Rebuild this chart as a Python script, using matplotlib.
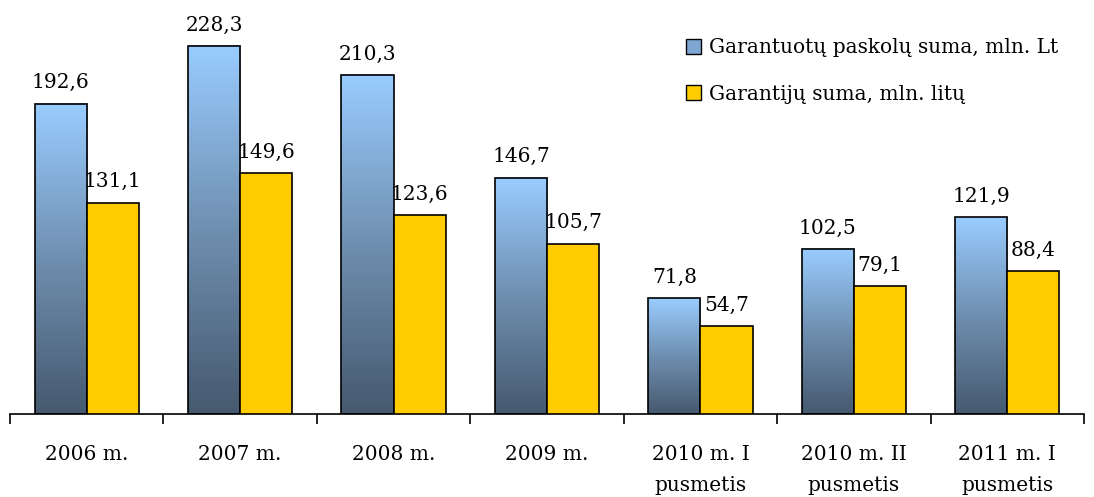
import numpy as np
import matplotlib
matplotlib.use("Agg")
import matplotlib.pyplot as plt
from matplotlib.colors import LinearSegmentedColormap
from matplotlib.patches import Rectangle

categories = ["2006 m.", "2007 m.", "2008 m.", "2009 m.", "2010 m. I\npusmetis",
              "2010 m. II\npusmetis", "2011 m. I\npusmetis"]
loans = [192.6, 228.3, 210.3, 146.7, 71.8, 102.5, 121.9]
guarantees = [131.1, 149.6, 123.6, 105.7, 54.7, 79.1, 88.4]
loan_labels = ["192,6", "228,3", "210,3", "146,7", "71,8", "102,5", "121,9"]
guar_labels = ["131,1", "149,6", "123,6", "105,7", "54,7", "79,1", "88,4"]
series_names = ["Garantuotų paskolų suma, mln. Lt", "Garantijų suma, mln. litų"]

plt.rcParams['font.family'] = ['DejaVu Serif']
FS = 14.5
fig = plt.figure(figsize=(10.94, 4.97), dpi=100)
ax = fig.add_axes([10/1094, 1-414/497, 1074/1094, (414-11)/497])

cmap = LinearSegmentedColormap.from_list("blu", ["#46596F", "#6F8FB0", "#99CCFF"])
grad = np.linspace(0, 1, 256).reshape(-1, 1)
yellow = "#FFCC00"
w = 0.34
x = np.arange(len(categories))
for i in x:
    xl = i - w
    ax.imshow(grad, aspect='auto', cmap=cmap, origin='lower',
              extent=(xl, xl + w, 0, loans[i]), zorder=2)
    ax.add_patch(Rectangle((xl, 0), w, loans[i], fill=False, edgecolor='black', lw=1.2, zorder=3))
    ax.add_patch(Rectangle((i, 0), w, guarantees[i], facecolor=yellow, edgecolor='black', lw=1.2, zorder=3))
    ax.text(i - w/2, loans[i] + 7, loan_labels[i], ha='center', va='bottom', fontsize=FS)
    ax.text(i + w/2, guarantees[i] + 7, guar_labels[i], ha='center', va='bottom', fontsize=FS)

ax.set_xlim(-0.5, len(categories) - 0.5)
ax.set_ylim(0, 250)
for s in ['left', 'right', 'top']:
    ax.spines[s].set_visible(False)
ax.spines['bottom'].set_linewidth(1.2)
ax.set_yticks([])
ax.set_xticks(np.arange(-0.5, len(categories)), minor=False)
ax.set_xticklabels([])
ax.tick_params(axis='x', length=7, width=1.2, direction='out')
ax.set_xticks(x, minor=True)
ax.set_xticklabels(categories, minor=True, fontsize=FS, linespacing=1.8)
ax.tick_params(axis='x', which='minor', length=0, pad=22)

h1 = Rectangle((0, 0), 1, 1, facecolor="#7FA7D4", edgecolor='black')
h2 = Rectangle((0, 0), 1, 1, facecolor=yellow, edgecolor='black')
leg = ax.legend([h1, h2], series_names, loc='upper left', bbox_to_anchor=(0.629, 0.932),
                frameon=False, fontsize=FS, handlelength=0.75, handleheight=0.75,
                handletextpad=0.4, labelspacing=1.35, borderpad=0, borderaxespad=0)
fig.savefig("out.png", dpi=100)
